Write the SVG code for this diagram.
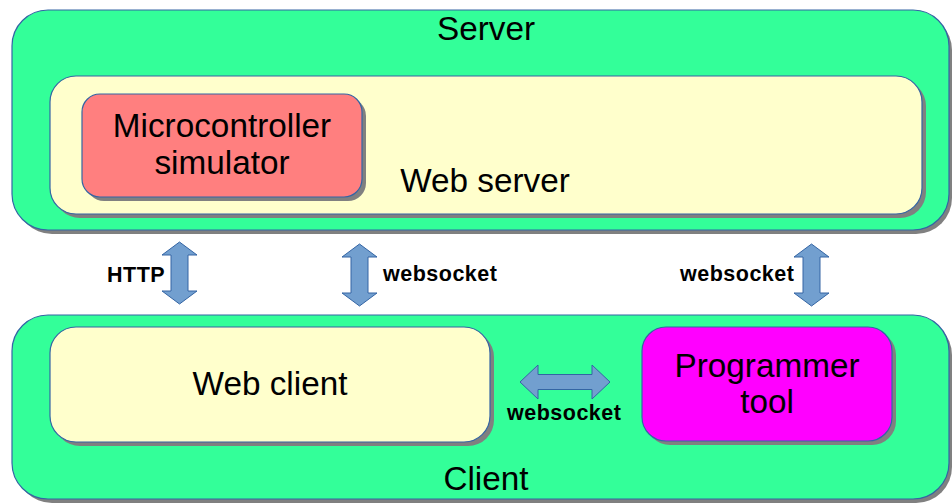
<svg xmlns="http://www.w3.org/2000/svg" width="952" height="503" viewBox="0 0 952 503">
<style>
.sh{fill:#808080;}
.green{fill:#33ff99;stroke:#3465a4;stroke-width:1.2;}
.cream{fill:#ffffcc;stroke:#3465a4;stroke-width:1.2;}
.red{fill:#ff7f7f;stroke:#3465a4;stroke-width:1.2;}
.mag{fill:#ff00ff;stroke:#3465a4;stroke-width:1.2;}
.big{font-family:"Liberation Sans",Arial,sans-serif;font-size:33.3px;fill:#000;text-anchor:middle;}
.lbl{font-family:"Liberation Sans",Arial,sans-serif;font-size:21.5px;font-weight:bold;fill:#000;letter-spacing:0.5px;}
.arr{fill:#729fcf;stroke:#3465a4;stroke-width:1;}
</style>
<rect width="952" height="503" fill="#ffffff"/>
<g id="server">
<rect class="sh" x="16" y="14" width="936" height="220" rx="36"/>
<rect class="green" x="12" y="10" width="937" height="220" rx="36"/>
<text class="big" x="486" y="40">Server</text>
</g>
<g id="webserver">
<rect class="sh" x="54" y="80" width="872" height="138" rx="26"/>
<rect class="cream" x="50" y="76" width="872" height="138" rx="26"/>
<text class="big" x="485" y="192">Web server</text>
</g>
<g id="mcusim">
<rect class="sh" x="86" y="98" width="280" height="103" rx="18"/>
<rect class="red" x="82" y="94" width="280" height="103" rx="18"/>
<text class="big" x="222" y="137">Microcontroller</text>
<text class="big" x="222" y="174">simulator</text>
</g>
<g id="client">
<rect class="sh" x="16" y="319" width="936" height="184" rx="36"/>
<rect class="green" x="12" y="315" width="937" height="184" rx="36"/>
<text class="big" x="486" y="490">Client</text>
</g>
<g id="webclient">
<rect class="sh" x="54" y="331" width="440" height="115" rx="26"/>
<rect class="cream" x="50" y="327" width="440" height="115" rx="26"/>
<text class="big" x="270" y="395">Web client</text>
</g>
<g id="programmer">
<rect class="sh" x="646" y="331" width="250" height="114" rx="24"/>
<rect class="mag" x="642" y="327" width="250" height="114" rx="24"/>
<text class="big" x="767" y="377">Programmer</text>
<text class="big" x="767" y="413">tool</text>
</g>
<g id="connectors">
<path class="arr" d="M179.5,242 L197,255 L188,255 L188,291 L197,291 L179.5,304 L162,291 L171,291 L171,255 L162,255 Z"/>
<path class="arr" d="M359.5,244 L377,257 L368,257 L368,293 L377,293 L359.5,306 L342,293 L351,293 L351,257 L342,257 Z"/>
<path class="arr" d="M811.5,244 L829,257 L820,257 L820,293 L829,293 L811.5,306 L794,293 L803,293 L803,257 L794,257 Z"/>
<path class="arr" d="M520,382 L538,365 L538,374.5 L592,374.5 L592,365 L610,382 L592,399 L592,389.5 L538,389.5 L538,399 Z"/>
<text class="lbl" x="107" y="282">HTTP</text>
<text class="lbl" x="383" y="281">websocket</text>
<text class="lbl" x="680" y="281">websocket</text>
<text class="lbl" x="507" y="420">websocket</text>
</g>
</svg>
